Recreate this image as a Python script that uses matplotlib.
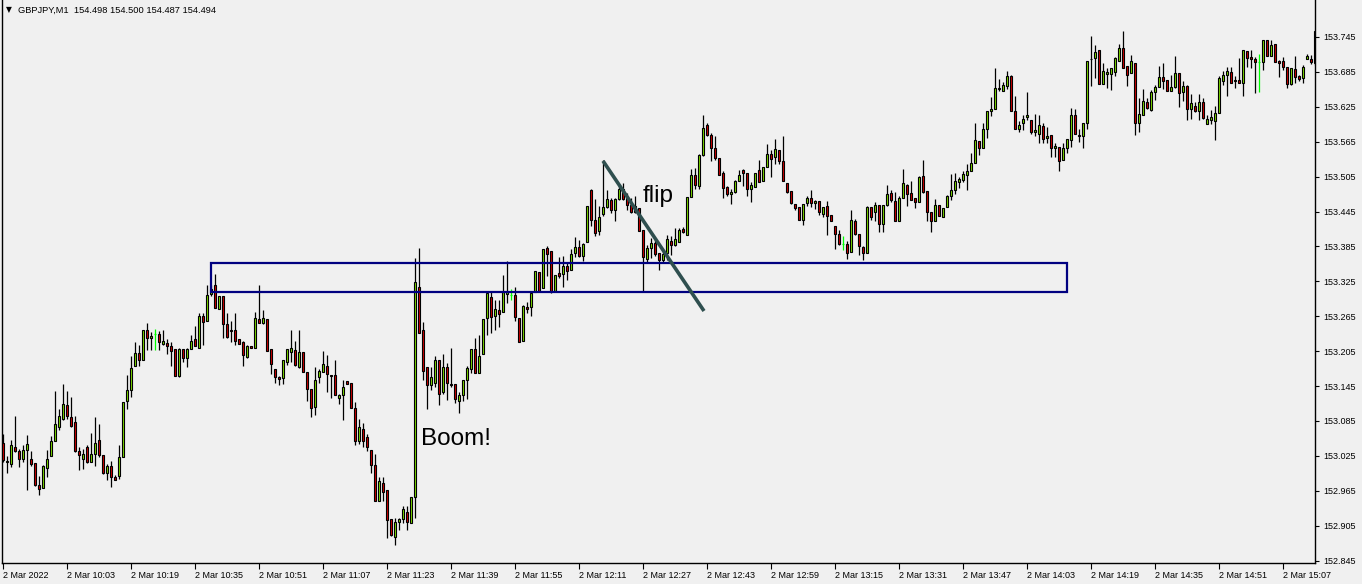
import matplotlib
matplotlib.use("Agg")
import matplotlib.pyplot as plt
from matplotlib.patches import Rectangle
import numpy as np

# GBPJPY M1 candles, 2 Mar 2022 from 09:47 (one entry per minute)
opens = [
    153.047, 153.014, 153.011, 153.041, 153.034, 153.019, 153.035, 153.019, 153.012, 152.975,
    152.969, 153.004, 153.024, 153.050, 153.075, 153.089, 153.112, 153.091, 153.083, 153.034,
    153.020, 153.041, 153.015, 153.028, 153.052, 153.027, 152.995, 153.008, 152.989, 152.990,
    153.023, 153.119, 153.138, 153.179, 153.202, 153.189, 153.242, 153.227, 153.234, 153.234,
    153.217, 153.219, 153.214, 153.208, 153.162, 153.209, 153.193, 153.209, 153.226, 153.210,
    153.265, 153.257, 153.304, 153.318, 153.277, 153.300, 153.252, 153.242, 153.241, 153.226,
    153.220, 153.195, 153.214, 153.210, 153.261, 153.253, 153.261, 153.208, 153.175, 153.160,
    153.159, 153.187, 153.203, 153.207, 153.177, 153.204, 153.169, 153.140, 153.109, 153.161,
    153.169, 153.180, 153.164, 153.164, 153.125, 153.129, 153.153, 153.150, 153.108, 153.050,
    153.072, 153.057, 153.035, 153.009, 152.947, 152.979, 152.966, 152.916, 152.886, 152.912,
    152.916, 152.928, 152.910, 152.954, 153.315, 153.241, 153.178, 153.146, 153.150, 153.190,
    153.134, 153.177, 153.149, 153.148, 153.119, 153.129, 153.155, 153.174, 153.208, 153.167,
    153.200, 153.262, 153.298, 153.265, 153.275, 153.273, 153.304, 153.301, 153.301, 153.262,
    153.223, 153.281, 153.281, 153.306, 153.341, 153.313, 153.382, 153.377, 153.308, 153.340,
    153.338, 153.352, 153.344, 153.373, 153.384, 153.369, 153.392, 153.482, 153.431, 153.411,
    153.440, 153.452, 153.465, 153.448, 153.466, 153.483, 153.471, 153.457, 153.444, 153.451,
    153.413, 153.363, 153.382, 153.391, 153.374, 153.361, 153.374, 153.395, 153.387, 153.392,
    153.415, 153.405, 153.470, 153.508, 153.489, 153.543, 153.593, 153.577, 153.555, 153.537,
    153.511, 153.488, 153.475, 153.479, 153.497, 153.517, 153.512, 153.483, 153.487, 153.517,
    153.497, 153.521, 153.544, 153.538, 153.551, 153.531, 153.494, 153.481, 153.458, 153.452,
    153.431, 153.460, 153.468, 153.459, 153.463, 153.440, 153.455, 153.439, 153.420, 153.406,
    153.389, 153.389, 153.375, 153.429, 153.406, 153.384, 153.374, 153.452, 153.444, 153.457,
    153.423, 153.456, 153.476, 153.463, 153.429, 153.469, 153.491, 153.476, 153.469, 153.462,
    153.506, 153.481, 153.445, 153.429, 153.456, 153.436, 153.452, 153.471, 153.482, 153.496,
    153.500, 153.507, 153.514, 153.529, 153.566, 153.554, 153.587, 153.617, 153.621, 153.656,
    153.653, 153.661, 153.678, 153.618, 153.586, 153.597, 153.608, 153.602, 153.582, 153.578,
    153.592, 153.571, 153.577, 153.554, 153.556, 153.533, 153.554, 153.568, 153.611, 153.577,
    153.574, 153.597, 153.708, 153.709, 153.722, 153.665, 153.682, 153.682, 153.684, 153.704,
    153.726, 153.695, 153.683, 153.701, 153.597, 153.611, 153.633, 153.620, 153.651, 153.659,
    153.676, 153.671, 153.653, 153.659, 153.683, 153.650, 153.661, 153.621, 153.626, 153.618,
    153.633, 153.595, 153.603, 153.601, 153.614, 153.670, 153.679, 153.684, 153.669, 153.671,
    153.666, 153.721, 153.710, 153.708, 153.702, 153.702, 153.739, 153.713, 153.733, 153.704,
    153.704, 153.693, 153.664, 153.690, 153.678, 153.674, 153.707, 153.707, 153.700,
]
highs = [
    153.063, 153.024, 153.053, 153.094, 153.037, 153.044, 153.061, 153.034, 153.012, 152.991,
    153.010, 153.035, 153.059, 153.137, 153.105, 153.149, 153.137, 153.126, 153.093, 153.041,
    153.037, 153.043, 153.065, 153.091, 153.080, 153.027, 153.011, 153.016, 152.992, 153.043,
    153.118, 153.164, 153.197, 153.221, 153.216, 153.242, 153.253, 153.238, 153.243, 153.240,
    153.242, 153.226, 153.221, 153.208, 153.210, 153.209, 153.211, 153.232, 153.248, 153.271,
    153.271, 153.319, 153.319, 153.338, 153.300, 153.300, 153.271, 153.257, 153.271, 153.226,
    153.222, 153.216, 153.214, 153.273, 153.318, 153.275, 153.261, 153.208, 153.175, 153.163,
    153.190, 153.208, 153.242, 153.222, 153.241, 153.204, 153.169, 153.140, 153.178, 153.175,
    153.205, 153.199, 153.164, 153.190, 153.132, 153.155, 153.153, 153.150, 153.117, 153.089,
    153.082, 153.063, 153.035, 153.029, 152.989, 152.988, 152.966, 152.916, 152.918, 152.919,
    152.939, 152.938, 152.954, 153.365, 153.383, 153.255, 153.178, 153.177, 153.197, 153.190,
    153.200, 153.184, 153.210, 153.148, 153.134, 153.156, 153.179, 153.208, 153.228, 153.233,
    153.260, 153.305, 153.306, 153.293, 153.293, 153.336, 153.360, 153.312, 153.316, 153.262,
    153.285, 153.289, 153.308, 153.343, 153.341, 153.380, 153.386, 153.377, 153.336, 153.367,
    153.368, 153.359, 153.380, 153.401, 153.396, 153.391, 153.455, 153.483, 153.466, 153.455,
    153.534, 153.482, 153.469, 153.469, 153.491, 153.494, 153.477, 153.468, 153.471, 153.451,
    153.413, 153.388, 153.399, 153.399, 153.374, 153.377, 153.405, 153.403, 153.417, 153.417,
    153.418, 153.470, 153.518, 153.520, 153.544, 153.611, 153.598, 153.580, 153.574, 153.537,
    153.514, 153.489, 153.484, 153.499, 153.517, 153.518, 153.512, 153.495, 153.512, 153.533,
    153.521, 153.561, 153.550, 153.570, 153.551, 153.574, 153.494, 153.481, 153.458, 153.452,
    153.458, 153.472, 153.482, 153.465, 153.463, 153.453, 153.463, 153.439, 153.420, 153.413,
    153.403, 153.394, 153.447, 153.432, 153.406, 153.386, 153.455, 153.453, 153.462, 153.457,
    153.457, 153.491, 153.482, 153.479, 153.471, 153.518, 153.492, 153.498, 153.469, 153.506,
    153.534, 153.481, 153.445, 153.466, 153.456, 153.451, 153.474, 153.509, 153.511, 153.505,
    153.514, 153.526, 153.545, 153.598, 153.566, 153.598, 153.618, 153.642, 153.692, 153.672,
    153.668, 153.686, 153.680, 153.644, 153.601, 153.611, 153.651, 153.602, 153.613, 153.611,
    153.598, 153.591, 153.577, 153.562, 153.556, 153.562, 153.569, 153.623, 153.621, 153.587,
    153.597, 153.704, 153.746, 153.731, 153.723, 153.701, 153.691, 153.691, 153.711, 153.733,
    153.755, 153.695, 153.714, 153.701, 153.640, 153.655, 153.640, 153.654, 153.663, 153.696,
    153.700, 153.671, 153.679, 153.713, 153.683, 153.669, 153.663, 153.647, 153.633, 153.647,
    153.640, 153.611, 153.620, 153.626, 153.678, 153.687, 153.694, 153.694, 153.678, 153.709,
    153.723, 153.721, 153.723, 153.710, 153.716, 153.739, 153.739, 153.740, 153.733, 153.706,
    153.710, 153.693, 153.691, 153.712, 153.680, 153.697, 153.716, 153.714, 153.755,
]
lows = [
    153.014, 152.996, 153.006, 153.032, 153.006, 153.014, 152.967, 153.007, 152.974, 152.957,
    152.969, 152.988, 153.024, 153.050, 153.070, 153.087, 153.089, 153.075, 153.032, 153.000,
    153.003, 153.012, 153.015, 153.008, 153.023, 152.994, 152.984, 152.972, 152.983, 152.985,
    153.023, 153.106, 153.127, 153.179, 153.180, 153.189, 153.207, 153.207, 153.207, 153.207,
    153.215, 153.200, 153.179, 153.162, 153.161, 153.187, 153.177, 153.209, 153.213, 153.210,
    153.216, 153.257, 153.300, 153.279, 153.277, 153.228, 153.228, 153.220, 153.216, 153.218,
    153.179, 153.193, 153.210, 153.210, 153.253, 153.252, 153.206, 153.166, 153.151, 153.147,
    153.149, 153.181, 153.186, 153.179, 153.176, 153.169, 153.120, 153.092, 153.096, 153.150,
    153.169, 153.134, 153.124, 153.129, 153.114, 153.087, 153.148, 153.108, 153.044, 153.045,
    153.041, 153.034, 152.995, 152.947, 152.947, 152.947, 152.883, 152.887, 152.872, 152.898,
    152.909, 152.898, 152.909, 152.918, 153.236, 153.155, 153.105, 153.139, 153.144, 153.112,
    153.131, 153.121, 153.143, 153.116, 153.098, 153.119, 153.122, 153.167, 153.167, 153.167,
    153.200, 153.233, 153.237, 153.242, 153.246, 153.273, 153.287, 153.293, 153.256, 153.220,
    153.223, 153.270, 153.265, 153.306, 153.308, 153.313, 153.335, 153.305, 153.308, 153.330,
    153.315, 153.328, 153.344, 153.367, 153.366, 153.360, 153.392, 153.420, 153.403, 153.405,
    153.438, 153.451, 153.442, 153.428, 153.465, 153.465, 153.447, 153.442, 153.442, 153.411,
    153.308, 153.358, 153.365, 153.369, 153.345, 153.356, 153.362, 153.371, 153.385, 153.392,
    153.408, 153.404, 153.470, 153.483, 153.483, 153.540, 153.574, 153.531, 153.534, 153.507,
    153.468, 153.472, 153.458, 153.477, 153.497, 153.489, 153.471, 153.461, 153.487, 153.495,
    153.497, 153.521, 153.505, 153.526, 153.526, 153.497, 153.477, 153.458, 153.447, 153.431,
    153.421, 153.454, 153.453, 153.449, 153.439, 153.436, 153.404, 153.428, 153.381, 153.388,
    153.379, 153.363, 153.375, 153.405, 153.370, 153.361, 153.373, 153.431, 153.428, 153.410,
    153.409, 153.455, 153.462, 153.429, 153.428, 153.469, 153.455, 153.464, 153.451, 153.462,
    153.476, 153.429, 153.410, 153.428, 153.438, 153.436, 153.452, 153.464, 153.475, 153.485,
    153.496, 153.482, 153.514, 153.528, 153.542, 153.554, 153.572, 153.609, 153.621, 153.653,
    153.653, 153.656, 153.617, 153.586, 153.582, 153.585, 153.602, 153.578, 153.574, 153.563,
    153.563, 153.563, 153.538, 153.539, 153.515, 153.533, 153.545, 153.556, 153.578, 153.565,
    153.554, 153.586, 153.660, 153.675, 153.664, 153.665, 153.657, 153.654, 153.678, 153.703,
    153.692, 153.660, 153.683, 153.577, 153.581, 153.611, 153.622, 153.618, 153.637, 153.659,
    153.655, 153.653, 153.653, 153.657, 153.624, 153.635, 153.602, 153.604, 153.616, 153.603,
    153.604, 153.595, 153.595, 153.568, 153.614, 153.663, 153.644, 153.666, 153.658, 153.666,
    153.643, 153.693, 153.692, 153.649, 153.651, 153.689, 153.713, 153.712, 153.702, 153.677,
    153.689, 153.657, 153.662, 153.666, 153.669, 153.666, 153.707, 153.698, 153.697,
]
closes = [
    153.018, 153.016, 153.043, 153.033, 153.019, 153.035, 153.045, 153.011, 152.975, 152.968,
    153.008, 153.019, 153.050, 153.080, 153.093, 153.114, 153.093, 153.077, 153.034, 153.026,
    153.029, 153.014, 153.029, 153.047, 153.026, 152.995, 153.008, 152.988, 152.984, 153.023,
    153.118, 153.139, 153.176, 153.202, 153.189, 153.242, 153.227, 153.231, 153.234, 153.220,
    153.222, 153.214, 153.205, 153.162, 153.209, 153.193, 153.209, 153.223, 153.213, 153.265,
    153.255, 153.302, 153.311, 153.279, 153.300, 153.252, 153.229, 153.240, 153.223, 153.218,
    153.199, 153.214, 153.210, 153.262, 153.253, 153.262, 153.206, 153.183, 153.161, 153.157,
    153.190, 153.208, 153.210, 153.181, 153.204, 153.169, 153.140, 153.107, 153.156, 153.171,
    153.183, 153.166, 153.162, 153.129, 153.130, 153.143, 153.148, 153.108, 153.051, 153.074,
    153.050, 153.040, 153.010, 152.947, 152.982, 152.963, 152.915, 152.889, 152.912, 152.916,
    152.934, 152.912, 152.954, 153.323, 153.236, 153.170, 153.146, 153.161, 153.190, 153.132,
    153.177, 153.151, 153.146, 153.122, 153.130, 153.155, 153.176, 153.208, 153.167, 153.197,
    153.260, 153.305, 153.263, 153.277, 153.269, 153.306, 153.306, 153.301, 153.263, 153.220,
    153.282, 153.277, 153.305, 153.343, 153.308, 153.380, 153.372, 153.308, 153.336, 153.335,
    153.352, 153.342, 153.372, 153.384, 153.368, 153.389, 153.455, 153.430, 153.408, 153.436,
    153.452, 153.466, 153.447, 153.466, 153.483, 153.466, 153.457, 153.444, 153.454, 153.412,
    153.366, 153.382, 153.391, 153.372, 153.361, 153.372, 153.397, 153.387, 153.397, 153.413,
    153.409, 153.470, 153.508, 153.490, 153.543, 153.589, 153.576, 153.555, 153.537, 153.508,
    153.485, 153.475, 153.479, 153.497, 153.508, 153.512, 153.483, 153.491, 153.512, 153.495,
    153.521, 153.544, 153.535, 153.553, 153.531, 153.497, 153.479, 153.460, 153.451, 153.431,
    153.458, 153.468, 153.459, 153.463, 153.445, 153.453, 153.438, 153.428, 153.406, 153.389,
    153.389, 153.373, 153.431, 153.406, 153.385, 153.373, 153.453, 153.435, 153.457, 153.423,
    153.457, 153.475, 153.464, 153.429, 153.469, 153.494, 153.475, 153.465, 153.462, 153.504,
    153.478, 153.445, 153.429, 153.456, 153.438, 153.451, 153.472, 153.482, 153.498, 153.501,
    153.509, 153.515, 153.528, 153.568, 153.554, 153.587, 153.618, 153.621, 153.658, 153.658,
    153.662, 153.678, 153.617, 153.586, 153.594, 153.604, 153.611, 153.582, 153.585, 153.594,
    153.569, 153.574, 153.554, 153.558, 153.532, 153.554, 153.569, 153.611, 153.578, 153.574,
    153.597, 153.704, 153.707, 153.719, 153.665, 153.687, 153.684, 153.691, 153.709, 153.726,
    153.692, 153.680, 153.704, 153.598, 153.612, 153.635, 153.623, 153.650, 153.659, 153.676,
    153.670, 153.653, 153.659, 153.683, 153.649, 153.661, 153.621, 153.631, 153.618, 153.633,
    153.606, 153.604, 153.607, 153.614, 153.675, 153.680, 153.687, 153.666, 153.671, 153.666,
    153.723, 153.709, 153.708, 153.702, 153.702, 153.739, 153.713, 153.732, 153.702, 153.700,
    153.693, 153.664, 153.691, 153.677, 153.673, 153.693, 153.713, 153.702, 153.755,
]

# axis labels
price_ticks = [152.845, 152.905, 152.965, 153.025, 153.085, 153.145, 153.205, 153.265,
               153.325, 153.385, 153.445, 153.505, 153.565, 153.625, 153.685, 153.745]
time_tick_bars = [0, 16, 32, 48, 64, 80, 96, 112, 128, 144, 160, 176, 192, 208, 224,
                  240, 256, 272, 288, 304, 320]
time_labels = ["2 Mar 2022", "2 Mar 10:03", "2 Mar 10:19", "2 Mar 10:35", "2 Mar 10:51",
               "2 Mar 11:07", "2 Mar 11:23", "2 Mar 11:39", "2 Mar 11:55", "2 Mar 12:11",
               "2 Mar 12:27", "2 Mar 12:43", "2 Mar 12:59", "2 Mar 13:15", "2 Mar 13:31",
               "2 Mar 13:47", "2 Mar 14:03", "2 Mar 14:19", "2 Mar 14:35", "2 Mar 14:51",
               "2 Mar 15:07"]

# drawn objects: zone box (bar index / price) and trend line
zone_bars = (52, 266)
zone_prices = (153.307, 153.357)
trend_bars = (150, 175.25)
trend_prices = (153.532, 153.274)

header = "GBPJPY,M1  154.498 154.500 154.487 154.494"

BG = "#f0f0f0"
BULL = "#7fdf00"
BEAR = "#d00000"
DOJI = "#00ff00"

plt.rcParams["font.family"] = ["Liberation Sans", "DejaVu Sans"]

o = np.array(opens)
h = np.array(highs)
l = np.array(lows)
c = np.array(closes)
x = np.arange(len(o))
bull = c > o
bear = c < o
doji = c == o

fig = plt.figure(figsize=(13.62, 5.84), dpi=100, facecolor=BG)
ax = fig.add_axes([2 / 1362, 21 / 584, 1313 / 1362, 563 / 584])
ax.set_facecolor(BG)

# wicks and bodies
ax.vlines(x[~doji], l[~doji], h[~doji], color="black", lw=0.9, zorder=2)
ax.bar(x[bull], (c - o)[bull], bottom=o[bull], width=0.5, color=BULL,
       edgecolor="black", linewidth=0.8, zorder=3)
ax.bar(x[bear], (o - c)[bear], bottom=c[bear], width=0.5, color=BEAR,
       edgecolor="black", linewidth=0.8, zorder=3)
ax.vlines(x[doji], l[doji], h[doji], color=DOJI, lw=0.9, zorder=3)
ax.hlines(c[doji], x[doji] - 0.35, x[doji] + 0.35, color=DOJI, lw=0.9, zorder=3)

# zone and trend line
ax.add_patch(Rectangle((zone_bars[0], zone_prices[0]), zone_bars[1] - zone_bars[0],
                       zone_prices[1] - zone_prices[0], fill=False,
                       edgecolor="#000080", lw=1.6, zorder=4))
ax.plot(trend_bars, trend_prices, color="#2f4f4f", lw=2.6, zorder=5,
        solid_capstyle="butt")

ax.text(160, 153.462, "flip", fontsize=17.5, va="baseline", ha="left", zorder=6)
ax.text(104.5, 153.044, "Boom!", fontsize=17.5, va="baseline", ha="left", zorder=6)

ax.set_xlim(-0.25, 328)
ax.set_ylim(152.8408, 153.8086)

# price scale on the right
ax.yaxis.tick_right()
ax.set_yticks(price_ticks)
ax.set_yticklabels([f"{p:.3f}" for p in price_ticks])
ax.tick_params(axis="y", direction="out", length=3, width=0.8, pad=3, labelsize=6.5)

# time scale
ax.set_xticks(time_tick_bars)
ax.set_xticklabels(time_labels)
for lab in ax.get_xticklabels():
    lab.set_horizontalalignment("left")
ax.tick_params(axis="x", direction="out", length=4, width=0.8, pad=2, labelsize=6.5)

for side in ["left", "bottom", "right"]:
    ax.spines[side].set_color("black")
    ax.spines[side].set_linewidth(1)
ax.spines["top"].set_visible(False)

fig.text(6 / 1362, 1 - 10 / 584, "\u25bc", fontsize=5.5, va="center", ha="left",
         family="DejaVu Sans")
fig.text(18 / 1362, 1 - 10 / 584, header, fontsize=6.7, va="center", ha="left")

fig.savefig("out.png", dpi=100, facecolor=BG)
plt.close(fig)
